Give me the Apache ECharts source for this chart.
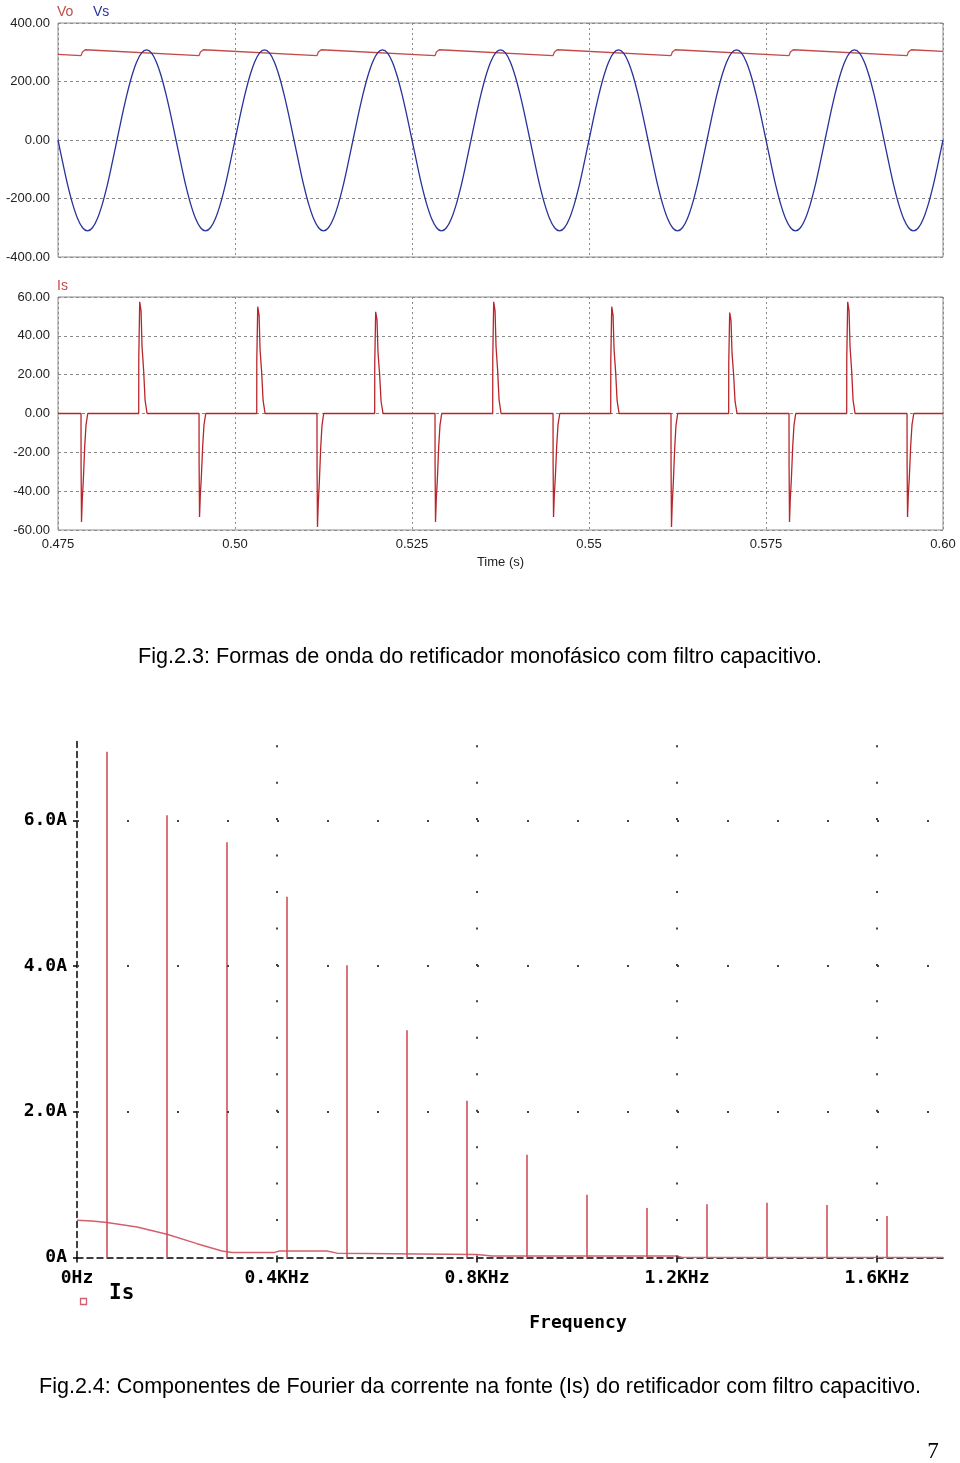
<!DOCTYPE html>
<html><head><meta charset="utf-8">
<script src="https://cdn.jsdelivr.net/npm/echarts@6/dist/echarts.min.js"></script>
<style>html,body{margin:0;padding:0;background:#fff;}#c{width:960px;height:1463px;}</style>
</head><body><div id="c"></div>
<script>
// ---------- tick labels ----------
const timeTickLabels = ['0.475','0.50','0.525','0.55','0.575','0.60'];
const voltTickLabels = ['-400.00','-200.00','0.00','200.00','400.00'];
const currTickLabels = ['-60.00','-40.00','-20.00','0.00','20.00','40.00','60.00'];
const freqTickLabels = ['0Hz','0.4KHz','0.8KHz','1.2KHz','1.6KHz'];
const ampTickLabels = ['0A','2.0A','4.0A','6.0A'];

// ---------- Vs: source voltage, sampled every 1/1440 s from 0.475 s ----------
const VS_START = 0.475, VS_STEP = 1/1440;
const vsValues = [
0,-80,-156,-220,-269,-300,-311,-300,-269,-220,-156,-80,0,80,154,218,267,298,308,298,267,218,154,80,
0,-80,-156,-220,-269,-300,-311,-300,-269,-220,-156,-80,0,80,154,218,267,298,308,298,267,218,154,80,
0,-80,-156,-220,-269,-300,-311,-300,-269,-220,-156,-80,0,80,154,218,267,298,308,298,267,218,154,80,
0,-80,-156,-220,-269,-300,-311,-300,-269,-220,-156,-80,0,80,154,218,267,298,308,298,267,218,154,80,
0,-80,-156,-220,-269,-300,-311,-300,-269,-220,-156,-80,0,80,154,218,267,298,308,298,267,218,154,80,
0,-80,-156,-220,-269,-300,-311,-300,-269,-220,-156,-80,0,80,154,218,267,298,308,298,267,218,154,80,
0,-80,-156,-220,-269,-300,-311,-300,-269,-220,-156,-80,0,80,154,218,267,298,308,298,267,218,154,80,
0,-80,-156,-220,-269,-300,-311,-300,-269,-220,-156,-80,
0];

// ---------- Vo: output voltage [t, V] ----------
const voPoints = [
[0.47500,292.6],[0.47825,288.5],[0.47845,301],[0.47885,308.6],
[0.49492,288.6],[0.49512,301],[0.49552,308.6],
[0.51158,288.6],[0.51178,301],[0.51218,308.6],
[0.52825,288.6],[0.52845,301],[0.52885,308.6],
[0.54492,288.6],[0.54512,301],[0.54552,308.6],
[0.56158,288.6],[0.56178,301],[0.56218,308.6],
[0.57825,288.6],[0.57845,301],[0.57885,308.6],
[0.59492,288.6],[0.59512,301],[0.59552,308.6],
[0.60000,303.0]];

// ---------- Is: source current [t, A] ----------
const isPoints = [
[0.47500,0],
[0.47825,0],[0.47826,-26.8],[0.47832,-55.9],[0.47843,-44.2],[0.47858,-34.1],[0.47877,-17.3],[0.47895,-6.1],[0.47920,0],
[0.48640,0],[0.48641,28.8],[0.48654,57.5],[0.48673,52.9],[0.48687,34.5],[0.48710,21.9],[0.48730,6.9],[0.48758,0],
[0.49492,0],[0.49493,-25.6],[0.49499,-53.3],[0.49510,-42.1],[0.49525,-32.5],[0.49544,-16.5],[0.49562,-5.9],[0.49587,0],
[0.50307,0],[0.50308,27.5],[0.50321,55.0],[0.50340,50.6],[0.50354,33.0],[0.50377,20.9],[0.50397,6.6],[0.50425,0],
[0.51158,0],[0.51159,-28.0],[0.51165,-58.4],[0.51176,-46.1],[0.51191,-35.6],[0.51210,-18.1],[0.51228,-6.4],[0.51253,0],
[0.51973,0],[0.51974,26.2],[0.51987,52.4],[0.52006,48.2],[0.52020,31.4],[0.52043,19.9],[0.52063,6.3],[0.52091,0],
[0.52825,0],[0.52826,-26.8],[0.52832,-55.9],[0.52843,-44.2],[0.52858,-34.1],[0.52877,-17.3],[0.52895,-6.1],[0.52920,0],
[0.53640,0],[0.53641,28.8],[0.53654,57.5],[0.53673,52.9],[0.53687,34.5],[0.53710,21.9],[0.53730,6.9],[0.53758,0],
[0.54492,0],[0.54493,-25.6],[0.54499,-53.3],[0.54510,-42.1],[0.54525,-32.5],[0.54544,-16.5],[0.54562,-5.9],[0.54587,0],
[0.55307,0],[0.55308,27.5],[0.55321,55.0],[0.55340,50.6],[0.55354,33.0],[0.55377,20.9],[0.55397,6.6],[0.55425,0],
[0.56158,0],[0.56159,-28.0],[0.56165,-58.4],[0.56176,-46.1],[0.56191,-35.6],[0.56210,-18.1],[0.56228,-6.4],[0.56253,0],
[0.56973,0],[0.56974,26.0],[0.56987,52.0],[0.57006,47.8],[0.57020,31.2],[0.57043,19.8],[0.57063,6.2],[0.57091,0],
[0.57825,0],[0.57826,-26.8],[0.57832,-55.9],[0.57843,-44.2],[0.57858,-34.1],[0.57877,-17.3],[0.57895,-6.1],[0.57920,0],
[0.58640,0],[0.58641,28.8],[0.58654,57.5],[0.58673,52.9],[0.58687,34.5],[0.58710,21.9],[0.58730,6.9],[0.58758,0],
[0.59492,0],[0.59493,-25.6],[0.59499,-53.3],[0.59510,-42.1],[0.59525,-32.5],[0.59544,-16.5],[0.59562,-5.9],[0.59587,0],
[0.60000,0]];

// ---------- Fourier spectrum of Is ----------
const harmonicFreqs = [60,180,300,420,540,660,780,900,1020,1140,1260,1380,1500,1620];
const harmonicAmps  = [6.94,6.07,5.70,4.95,4.01,3.12,2.15,1.41,0.86,0.68,0.73,0.75,0.72,0.57];
const spectrumFloor = [[0,0.51],[30,0.50],[60,0.48],[120,0.42],[180,0.32],[240,0.19],[290,0.09],[310,0.07],
  [395,0.07],[405,0.09],[500,0.09],[520,0.06],[800,0.04],[830,0.02],[1200,0.02],[1210,0],[1732,0]];

// ---------- build ----------
const vsPoints = vsValues.map((v, i) => [VS_START + i * VS_STEP, v]);
const harmonicData = harmonicFreqs.map((f, i) => [f, harmonicAmps[i]]);

const SANS = '"Liberation Sans", Arial, sans-serif';
const MONO = '"DejaVu Sans Mono", monospace';
const gridLine = '#8a8a8a';

const topX = (idx, showLabel) => ({
  type: 'value', gridIndex: idx, min: 0.475, max: 0.60, interval: 0.025,
  axisLine: {show: false}, axisTick: {show: false},
  axisLabel: {show: showLabel, margin: 8, color: '#222', fontFamily: SANS, fontSize: 13,
    formatter: v => timeTickLabels[Math.round((v - 0.475) / 0.025)] || ''},
  splitLine: {show: true, lineStyle: {color: gridLine, type: [2, 3], width: 1}}
});

const chart = echarts.init(document.getElementById('c'), null, {renderer: 'canvas'});
chart.setOption({
  animation: false,
  backgroundColor: '#fff',
  grid: [
    {left: 58, top: 23, width: 885, height: 234, show: true, borderColor: '#8c8c8c', borderWidth: 1, backgroundColor: 'transparent'},
    {left: 58, top: 297, width: 885, height: 233, show: true, borderColor: '#8c8c8c', borderWidth: 1, backgroundColor: 'transparent'},
    {left: 77, top: 738, width: 866, height: 519.5, show: false}
  ],
  xAxis: [
    topX(0, false),
    Object.assign(topX(1, true), {name: 'Time (s)', nameLocation: 'middle', nameGap: 26,
      nameTextStyle: {color: '#222', fontFamily: SANS, fontSize: 13}}),
    {type: 'value', gridIndex: 2, min: 0, max: 1732, interval: 400,
     axisLine: {show: true, lineStyle: {color: '#000', width: 1.5, type: [6, 4]}},
     axisTick: {show: true, length: 5, lineStyle: {color: '#000', width: 1.5}, customValues: [0, 400, 800, 1200, 1600]},
     axisLabel: {margin: 12, color: '#000', fontFamily: MONO, fontWeight: 'bold', fontSize: 18,
       customValues: [0, 400, 800, 1200, 1600],
       formatter: v => (Math.abs(v / 400 - Math.round(v / 400)) < 1e-6 ? (freqTickLabels[Math.round(v / 400)] || '') : '')},
     splitLine: {show: false}}
  ],
  yAxis: [
    {type: 'value', gridIndex: 0, min: -400, max: 400, interval: 200,
     axisLine: {show: false}, axisTick: {show: false},
     axisLabel: {margin: 8, color: '#222', fontFamily: SANS, fontSize: 13,
       formatter: v => voltTickLabels[Math.round((v + 400) / 200)] || ''},
     splitLine: {show: true, lineStyle: {color: gridLine, type: [3, 3], width: 1}}},
    {type: 'value', gridIndex: 1, min: -60, max: 60, interval: 20,
     axisLine: {show: false}, axisTick: {show: false},
     axisLabel: {margin: 8, color: '#222', fontFamily: SANS, fontSize: 13,
       formatter: v => currTickLabels[Math.round((v + 60) / 20)] || ''},
     splitLine: {show: true, lineStyle: {color: gridLine, type: [3, 3], width: 1}}},
    {type: 'value', gridIndex: 2, min: 0, max: 7.13, interval: 2,
     axisLine: {show: true, lineStyle: {color: '#000', width: 1.5, type: [6, 4]}},
     axisTick: {show: true, length: 4, lineStyle: {color: '#000', width: 1.5}, customValues: [0, 2, 4, 6]},
     axisLabel: {margin: 10, color: '#000', fontFamily: MONO, fontWeight: 'bold', fontSize: 18,
       customValues: [0, 2, 4, 6],
       formatter: v => (Math.abs(v / 2 - Math.round(v / 2)) < 1e-6 ? (ampTickLabels[Math.round(v / 2)] || '') : '')},
     splitLine: {show: false}}
  ],
  series: [
    {name: 'Vo', type: 'line', xAxisIndex: 0, yAxisIndex: 0, data: voPoints, showSymbol: false,
     lineStyle: {color: '#c24a4a', width: 1.3}, z: 3},
    {name: 'Vs', type: 'line', xAxisIndex: 0, yAxisIndex: 0, data: vsPoints, showSymbol: false, smooth: 0.33,
     lineStyle: {color: '#27339a', width: 1.3}, z: 4},
    {name: 'Is', type: 'line', xAxisIndex: 1, yAxisIndex: 1, data: isPoints, showSymbol: false,
     lineStyle: {color: '#b8262b', width: 1.3}, z: 3},
    {name: 'Is spectrum floor', type: 'line', xAxisIndex: 2, yAxisIndex: 2, data: spectrumFloor, showSymbol: false,
     lineStyle: {color: '#d4606b', width: 1.5}, z: 3,
     markLine: {silent: true, symbol: ['none', 'none'], label: {show: false}, animation: false,
       data: [
         {yAxis: 2, lineStyle: {color: '#444', width: 2, type: [2, 48]}},
         {yAxis: 4, lineStyle: {color: '#444', width: 2, type: [2, 48]}},
         {yAxis: 6, lineStyle: {color: '#444', width: 2, type: [2, 48]}},
         {xAxis: 400, lineStyle: {color: '#444', width: 2, type: [2, 34.45]}},
         {xAxis: 800, lineStyle: {color: '#444', width: 2, type: [2, 34.45]}},
         {xAxis: 1200, lineStyle: {color: '#444', width: 2, type: [2, 34.45]}},
         {xAxis: 1600, lineStyle: {color: '#444', width: 2, type: [2, 34.45]}}
       ]}},
    {name: 'Is harmonics', type: 'bar', xAxisIndex: 2, yAxisIndex: 2, data: harmonicData, barWidth: 1.6,
     itemStyle: {color: '#cf4f5b'}, z: 4}
  ],
  graphic: [
    {type: 'text', x: 57, y: 12, style: {text: 'Vo', fill: '#c24a4a', font: '14px ' + SANS, textVerticalAlign: 'middle'}},
    {type: 'text', x: 93, y: 12, style: {text: 'Vs', fill: '#27339a', font: '14px ' + SANS, textVerticalAlign: 'middle'}},
    {type: 'text', x: 57, y: 286, style: {text: 'Is', fill: '#c24a4a', font: '14px ' + SANS, textVerticalAlign: 'middle'}},
    {type: 'text', x: 480, y: 657, style: {text: 'Fig.2.3: Formas de onda do retificador monofásico com filtro capacitivo.',
      fill: '#000', font: '21.6px ' + SANS, textAlign: 'center', textVerticalAlign: 'middle'}},
    {type: 'rect', shape: {x: 80.5, y: 1298.5, width: 6, height: 6}, style: {fill: 'none', stroke: '#d06070', lineWidth: 1.3}},
    {type: 'text', x: 109, y: 1294, style: {text: 'Is', fill: '#000', font: 'bold 21px ' + MONO, textVerticalAlign: 'middle'}},
    {type: 'text', x: 578, y: 1323, style: {text: 'Frequency', fill: '#000', font: 'bold 18px ' + MONO, textAlign: 'center', textVerticalAlign: 'middle'}},
    {type: 'text', x: 480, y: 1387, style: {text: 'Fig.2.4: Componentes de Fourier da corrente na fonte (Is) do retificador com filtro capacitivo.',
      fill: '#000', font: '21.5px ' + SANS, textAlign: 'center', textVerticalAlign: 'middle'}},
    {type: 'text', x: 933, y: 1452, style: {text: '7', fill: '#000', font: '23px "Liberation Serif", serif', textAlign: 'center', textVerticalAlign: 'middle'}}
  ]
});
</script></body></html>
